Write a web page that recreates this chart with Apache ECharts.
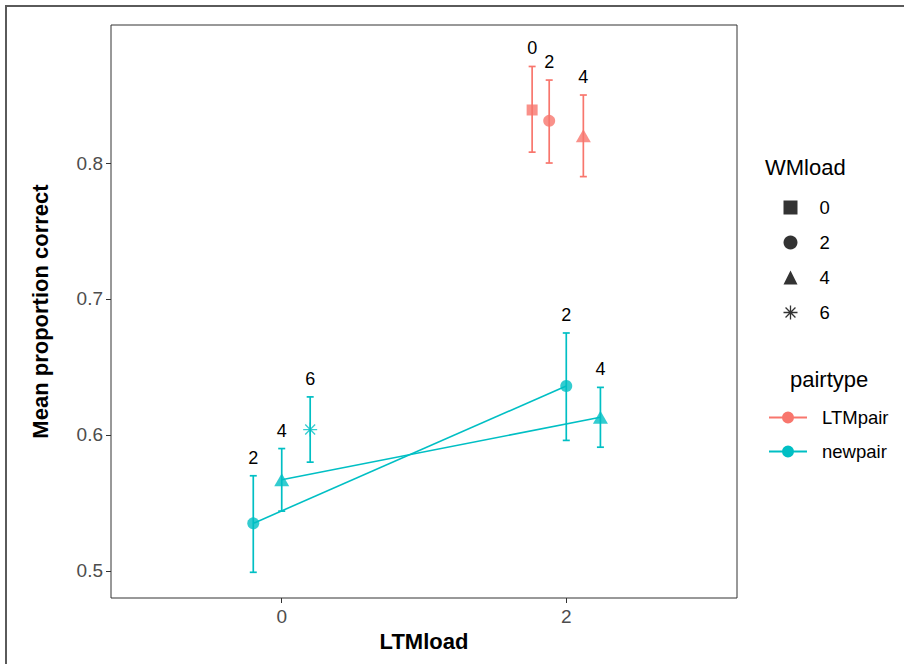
<!DOCTYPE html>
<html>
<head>
<meta charset="utf-8">
<script src="https://cdn.jsdelivr.net/npm/echarts@6/dist/echarts.min.js"></script>
<style>
  html, body { margin: 0; padding: 0; background: #fff; }
  #chart { width: 904px; height: 664px; }
</style>
</head>
<body>
<div id="chart"></div>
<script>
// ---- data ----
const pairtype    = ['LTMpair','LTMpair','LTMpair','newpair','newpair','newpair','newpair','newpair'];
const wmLoad      = [0, 2, 4, 2, 4, 6, 2, 4];
const ltmLoad     = [2, 2, 2, 0, 0, 0, 2, 2];
const xDodged     = [1.76, 1.88, 2.12, -0.20, 0.00, 0.20, 2.00, 2.24];
const meanCorrect = [0.839, 0.831, 0.820, 0.535, 0.567, 0.604, 0.636, 0.613];
const ciLow       = [0.808, 0.800, 0.790, 0.499, 0.544, 0.580, 0.596, 0.591];
const ciHigh      = [0.871, 0.861, 0.850, 0.570, 0.590, 0.628, 0.675, 0.635];

const xTicks = [0, 2];
const yTicks = [0.5, 0.6, 0.7, 0.8];
const wmLevels = [0, 2, 4, 6];
const pairLevels = ['LTMpair', 'newpair'];

// ---- styles ----
const FONT = '"Liberation Sans", Arial, sans-serif';
const pairColor = { LTMpair: '#F8766D', newpair: '#00BFC4' };
const STAR = 'path://M0,5 L10,5 M5,0 L5,10 M1.46,1.46 L8.54,8.54 M8.54,1.46 L1.46,8.54';
const wmSymbol = { 0: 'rect', 2: 'circle', 4: 'triangle', 6: STAR };
const wmSize = { 0: 11, 2: 12, 4: [15, 13], 6: 14 };
const PAIR_ICON = 'path://M0,5.1 L38,5.1 L38,6.9 L0,6.9 Z M19,0 A6,6 0 1 1 19,12 A6,6 0 1 1 19,0 Z';

const idx = meanCorrect.map((_, i) => i);

// error bars + labels (custom series per pairtype)
function renderErr(params, api) {
  const x = api.value(0);
  const lo = api.coord([x, api.value(2)]);
  const hi = api.coord([x, api.value(3)]);
  const color = api.visual('color');
  const cw = 3.5;
  const st = { stroke: color, lineWidth: 1.7 };
  return {
    type: 'group',
    children: [
      { type: 'line', shape: { x1: lo[0], y1: lo[1], x2: hi[0], y2: hi[1] }, style: st },
      { type: 'line', shape: { x1: lo[0] - cw, y1: lo[1], x2: lo[0] + cw, y2: lo[1] }, style: st },
      { type: 'line', shape: { x1: hi[0] - cw, y1: hi[1], x2: hi[0] + cw, y2: hi[1] }, style: st },
      { type: 'text', x: hi[0], y: hi[1] - 18,
        style: { text: String(api.value(4)), fill: '#000', fontSize: 18, fontFamily: FONT,
                 align: 'center', verticalAlign: 'middle' } }
    ]
  };
}

const errSeries = pairLevels.map(p => ({
  name: p,
  type: 'custom',
  renderItem: renderErr,
  itemStyle: { color: pairColor[p] },
  encode: { x: 0, y: 1 },
  z: 3,
  data: idx.filter(i => pairtype[i] === p)
           .map(i => [xDodged[i], meanCorrect[i], ciLow[i], ciHigh[i], wmLoad[i]])
}));

// connecting lines: newpair, same WMload across LTMload
const lineSeries = [];
wmLevels.forEach(w => {
  const pts = idx.filter(i => pairtype[i] === 'newpair' && wmLoad[i] === w)
                 .sort((a, b) => ltmLoad[a] - ltmLoad[b]);
  if (pts.length > 1) {
    lineSeries.push({
      name: 'newpair-line-' + w,
      type: 'line',
      symbol: 'none',
      lineStyle: { color: pairColor.newpair, width: 1.6 },
      z: 2,
      silent: true,
      data: pts.map(i => [xDodged[i], meanCorrect[i]])
    });
  }
});

// points by WMload (shape)
const pointSeries = wmLevels.map(w => ({
  name: String(w),
  type: 'scatter',
  symbol: wmSymbol[w],
  symbolSize: wmSize[w],
  z: 4,
  itemStyle: w === 6 ? { color: 'none', borderColor: '#000', borderWidth: 1.3 } : { color: '#000' },
  data: idx.filter(i => wmLoad[i] === w).map(i => ({
    value: [xDodged[i], meanCorrect[i]],
    itemStyle: w === 6
      ? { color: 'none', borderColor: pairColor[pairtype[i]], borderWidth: 1.3 }
      : { color: pairColor[pairtype[i]] }
  }))
}));

const chart = echarts.init(document.getElementById('chart'), null, { renderer: 'svg' });
chart.setOption({
  animation: false,
  backgroundColor: '#fff',
  textStyle: { fontFamily: FONT },
  title: [
    { text: 'WMload', left: 765, top: 156, padding: 0,
      textStyle: { fontSize: 22, fontWeight: 'normal', color: '#000', fontFamily: FONT } },
    { text: 'pairtype', left: 790, top: 368, padding: 0,
      textStyle: { fontSize: 22, fontWeight: 'normal', color: '#000', fontFamily: FONT } }
  ],
  legend: [
    {
      orient: 'vertical', left: 781, top: 198, padding: 0,
      itemWidth: 14, itemHeight: 14, itemGap: 16, selectedMode: false,
      textStyle: { fontSize: 18.5, color: '#000', fontFamily: FONT, padding: [0, 0, 0, 17] },
      data: wmLevels.map(w => ({
        name: String(w),
        icon: wmSymbol[w],
        itemStyle: w === 6 ? { color: 'none', borderColor: '#000', borderWidth: 1.3 } : { color: '#000', borderWidth: 0 }
      }))
    },
    {
      orient: 'vertical', left: 769, top: 408, padding: 0,
      itemWidth: 38, itemHeight: 12, itemGap: 15, selectedMode: false,
      textStyle: { fontSize: 18.5, color: '#000', fontFamily: FONT, padding: [0, 0, 0, 10] },
      data: pairLevels.map(p => ({ name: p, icon: PAIR_ICON, itemStyle: { color: pairColor[p], borderWidth: 0 } }))
    }
  ],
  grid: {
    left: 111, right: 167, top: 25, bottom: 66,
    show: true, borderColor: '#333333', borderWidth: 1, backgroundColor: 'transparent',
    containLabel: false, outerBoundsMode: 'none'
  },
  xAxis: {
    type: 'value', min: -1.2, max: 3.2,
    name: 'LTMload', nameLocation: 'middle', nameGap: 31,
    nameTextStyle: { fontSize: 22, fontWeight: 'bold', color: '#000', fontFamily: FONT },
    axisLine: { show: false, onZero: false },
    axisTick: { show: true, customValues: xTicks, length: 5, lineStyle: { color: '#333333', width: 1 } },
    axisLabel: { show: true, customValues: xTicks, margin: 9, fontSize: 19, color: '#4D4D4D', fontFamily: FONT,
                 formatter: v => String(v) },
    splitLine: { show: false }
  },
  yAxis: {
    type: 'value', min: 0.4801, max: 0.9015,
    name: 'Mean proportion correct', nameLocation: 'middle', nameGap: 60, nameRotate: 90,
    nameTextStyle: { fontSize: 22, fontWeight: 'bold', color: '#000', fontFamily: FONT },
    axisLine: { show: false, onZero: false },
    axisTick: { show: true, customValues: yTicks, length: 5, lineStyle: { color: '#333333', width: 1 } },
    axisLabel: { show: true, customValues: yTicks, margin: 8, fontSize: 19, color: '#4D4D4D', fontFamily: FONT,
                 formatter: v => v.toFixed(1) },
    splitLine: { show: false }
  },
  graphic: [
    { type: 'rect', shape: { x: 5, y: 5, width: 2, height: 659 }, style: { fill: '#5a5a5a' }, silent: true },
    { type: 'rect', shape: { x: 5, y: 5, width: 899, height: 2 }, style: { fill: '#5a5a5a' }, silent: true }
  ],
  series: [...lineSeries, ...errSeries, ...pointSeries]
});
</script>
</body>
</html>
